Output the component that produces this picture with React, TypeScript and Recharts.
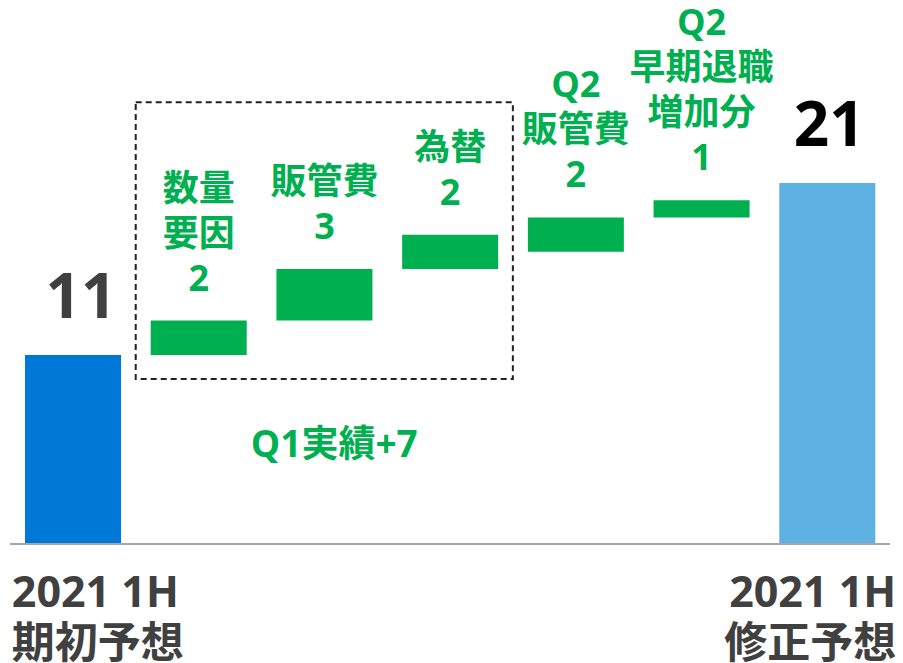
import { Bar, BarChart, Cell, Label, LabelList, ReferenceArea, XAxis, YAxis } from "recharts";

const categories = ["期初予想", "数量要因", "販管費", "為替", "Q2販管費", "Q2早期退職増加分", "修正予想"];
const bases = [0, 11, 13, 16, 17, 19, 0];
const deltas = [11, 2, 3, 2, 2, 1, 21];
const barLabels = [
  ["11"],
  ["数量", "要因", "2"],
  ["販管費", "3"],
  ["為替", "2"],
  ["Q2", "販管費", "2"],
  ["Q2", "早期退職", "増加分", "1"],
  ["21"],
];
const axisLabels = [["2021 1H", "期初予想"], [], [], [], [], [], ["2021 1H", "修正予想"]];
const barColors = ["#0078d7", "#00b050", "#00b050", "#00b050", "#00b050", "#00b050", "#5db2e3"];
const totalColors = ["#404040", "", "", "", "", "", "#000000"];
const boxNote = "Q1実績+7";

const FONT = "'Open Sans', 'Noto Sans CJK JP', sans-serif";
const GREEN = "#00b050";

const data = categories.map((name, i) => ({
  name,
  base: bases[i],
  delta: deltas[i],
}));

function BarLabel(props: any) {
  const { x, y, width, index } = props;
  const lines = barLabels[index] ?? [];
  const cx = x + width / 2;
  const isTotal = index === 0 || index === categories.length - 1;

  if (isTotal) {
    return (
      <text
        x={cx + (index === 0 ? 8 : 2)}
        y={y - 37}
        textAnchor="middle"
        fontFamily={FONT}
        fontWeight={700}
        fontSize={62}
        fill={totalColors[index]}
      >
        {lines[0]}
      </text>
    );
  }

  const last = y - 30;
  return (
    <g>
      {lines.map((line, i) => (
        <text
          key={i}
          x={cx}
          y={last - (lines.length - 1 - i) * 45}
          textAnchor="middle"
          fontFamily={FONT}
          fontWeight={700}
          fontSize={36}
          fill={GREEN}
        >
          {line}
        </text>
      ))}
    </g>
  );
}

function AxisTick(props: any) {
  const { x, y, index } = props;
  const lines = axisLabels[index] ?? [];
  if (!lines.length) return null;
  const first = index === 0;
  const tx = first ? x - 61 : x + 69;
  return (
    <text
      x={tx}
      y={y}
      textAnchor={first ? "start" : "end"}
      fontFamily={FONT}
      fontWeight={700}
      fontSize={43}
      fill="#404040"
    >
      {lines.map((line, i) => (
        <tspan key={i} x={tx} y={y + 55 + i * 51}>
          {line}
        </tspan>
      ))}
    </text>
  );
}

export default function App() {
  return (
    <div style={{ position: "absolute", left: 0, top: 0, width: 903, height: 663, background: "#fff" }}>
      <BarChart
        width={903}
        height={663}
        data={data}
        margin={{ top: 80, right: 13, bottom: 0, left: 10 }}
        barSize={96}
      >
        <XAxis
          dataKey="name"
          height={119}
          interval={0}
          tickLine={false}
          axisLine={{ stroke: "#a6a6a6", strokeWidth: 2 }}
          tick={<AxisTick />}
        />
        <YAxis hide domain={[0, 27]} />

        <ReferenceArea
          x1="数量要因"
          x2="為替"
          y1={9.6}
          y2={25.7}
          fill="none"
          stroke="#222"
          strokeWidth={2}
          strokeDasharray="6 4"
        >
          <Label
            value={boxNote}
            position="bottom"
            offset={52}
            dx={10}
            fill={GREEN}
            fontSize={37}
            fontWeight={700}
            fontFamily={FONT}
          />
        </ReferenceArea>

        <Bar dataKey="base" stackId="w" fill="transparent" isAnimationActive={false} />
        <Bar dataKey="delta" stackId="w" isAnimationActive={false}>
          {data.map((_, i) => (
            <Cell key={i} fill={barColors[i]} />
          ))}
          <LabelList dataKey="delta" content={<BarLabel />} />
        </Bar>
      </BarChart>
    </div>
  );
}
